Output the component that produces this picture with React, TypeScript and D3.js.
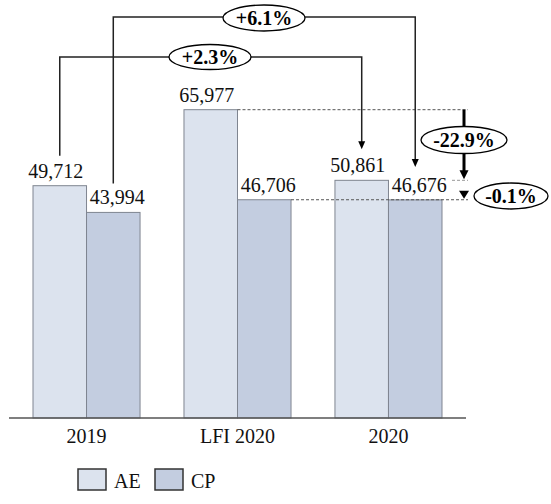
import React from "react";
import * as d3 from "d3";

const categories = ["2019", "LFI 2020", "2020"];
const seriesNames = ["AE", "CP"];
const aeValues = [49712, 65977, 50861];
const cpValues = [43994, 46706, 46676];
const changeLabels = ["+2.3%", "+6.1%", "-22.9%", "-0.1%"];

const W = 551;
const H = 504;
const FONT = "'Liberation Serif', 'Times New Roman', serif";
const colors: Record<string, string> = { AE: "#dce3ee", CP: "#c3cde0" };

export default function App() {
  const x = d3
    .scaleBand<string>()
    .domain(categories)
    .range([9, 466])
    .paddingInner(0.291)
    .paddingOuter(0.159);
  const xs = d3.scaleBand<string>().domain(seriesNames).range([0, x.bandwidth()]);
  const y = d3.scaleLinear().domain([0, 70000]).range([418, 418 - 70000 * 0.004673]);

  const vals: Record<string, number[]> = { AE: aeValues, CP: cpValues };
  const cx = (cat: string, s: string) => (x(cat) as number) + (xs(s) as number) + xs.bandwidth() / 2;
  const right = (cat: string, s: string) => (x(cat) as number) + (xs(s) as number) + xs.bandwidth();

  const rightX = 464;
  const dashEnd = 468;

  // connectors
  const c23 = { x1: cx("2019", "AE"), y1: y(aeValues[0]) - 30, x2: cx("2020", "AE"), y2: y(aeValues[2]) - 31, top: 57 };
  const c61 = { x1: cx("2019", "CP"), y1: y(cpValues[0]) - 29, x2: cx("2020", "CP"), y2: y(cpValues[2]) - 33, top: 17 };

  const arrowHead = (xx: number, tip: number, w: number, h: number) =>
    `M${xx - w / 2},${tip - h} L${xx + w / 2},${tip - h} L${xx},${tip} Z`;

  const ellipse = (ecx: number, ecy: number, rx: number, ry: number, label: string) => (
    <g>
      <ellipse cx={ecx} cy={ecy} rx={rx} ry={ry} fill="#fff" stroke="#000" strokeWidth={1.3} />
      <text x={ecx} y={ecy + 7} textAnchor="middle" fontFamily={FONT} fontWeight="bold" fontSize={20} fill="#000">
        {label}
      </text>
    </g>
  );

  const yLFI = y(aeValues[1]);
  const y2020AE = y(aeValues[2]);
  const yLFICP = y(cpValues[1]);

  return (
    <svg width={W} height={H} style={{ position: "absolute", left: 0, top: 0, background: "#fff" }}>
      {/* bars */}
      {categories.map((cat, i) =>
        seriesNames.map((s) => (
          <rect
            key={cat + s}
            x={(x(cat) as number) + (xs(s) as number)}
            y={y(vals[s][i])}
            width={xs.bandwidth()}
            height={y(0) - y(vals[s][i])}
            fill={colors[s]}
            stroke="#7f8590"
            strokeWidth={1}
          />
        ))
      )}
      {/* axis */}
      <line x1={9} x2={466} y1={y(0)} y2={y(0)} stroke="#555" strokeWidth={1.3} />
      {categories.map((cat) => (
        <text key={cat} x={(x(cat) as number) + x.bandwidth() / 2} y={443} textAnchor="middle" fontFamily={FONT} fontSize={20} fill="#111">
          {cat}
        </text>
      ))}
      {/* dashed reference lines */}
      <line x1={right("LFI 2020", "AE")} x2={dashEnd} y1={yLFI} y2={yLFI} stroke="#555" strokeWidth={1} strokeDasharray="3,2" />
      <line x1={right("LFI 2020", "CP")} x2={dashEnd} y1={yLFICP} y2={yLFICP} stroke="#555" strokeWidth={1} strokeDasharray="3,2" />
      <line x1={452} x2={dashEnd} y1={y2020AE} y2={y2020AE} stroke="#999" strokeWidth={1} strokeDasharray="3,2" />
      {/* value labels */}
      {categories.map((cat, i) =>
        seriesNames.map((s) => (
          <text
            key={"l" + cat + s}
            x={cx(cat, s) + (s === "AE" ? -4 : 4)}
            y={y(vals[s][i]) - 8}
            textAnchor="middle"
            fontFamily={FONT}
            fontSize={20}
            fill="#111"
          >
            {d3.format(",")(vals[s][i])}
          </text>
        ))
      )}
      {/* +2.3% connector */}
      <path
        d={`M${c23.x1},${c23.y1} V${c23.top} H${c23.x2} V${c23.y2 - 6}`}
        fill="none"
        stroke="#222"
        strokeWidth={1.5}
      />
      <path d={arrowHead(c23.x2, c23.y2, 7, 8)} fill="#000" />
      {/* +6.1% connector */}
      <path
        d={`M${c61.x1},${c61.y1} V${c61.top} H${c61.x2} V${c61.y2 - 6}`}
        fill="none"
        stroke="#222"
        strokeWidth={1.5}
      />
      <path d={arrowHead(c61.x2, c61.y2, 7, 8)} fill="#000" />
      {ellipse(264, 18, 41, 13, changeLabels[1])}
      {ellipse(210, 57, 41, 12.5, changeLabels[0])}
      {/* -22.9% thick arrow */}
      <line x1={rightX} x2={rightX} y1={yLFI} y2={y2020AE - 8} stroke="#000" strokeWidth={3} />
      <path d={arrowHead(rightX, y2020AE - 1, 9, 9)} fill="#000" />
      {ellipse(464, 140, 43, 13.5, changeLabels[2])}
      {/* -0.1% small triangle */}
      <path d={arrowHead(rightX, yLFICP - 1, 10, 8)} fill="#000" />
      {ellipse(511, 196, 37, 13, changeLabels[3])}
      {/* legend */}
      {seriesNames.map((s, i) => (
        <g key={"lg" + s} transform={`translate(${78 + i * 77},469)`}>
          <rect x={0} y={0} width={28} height={21} fill={colors[s]} stroke="#333" strokeWidth={1.5} />
          <text x={36} y={19} fontFamily={FONT} fontSize={20} fill="#111">
            {s}
          </text>
        </g>
      ))}
    </svg>
  );
}
